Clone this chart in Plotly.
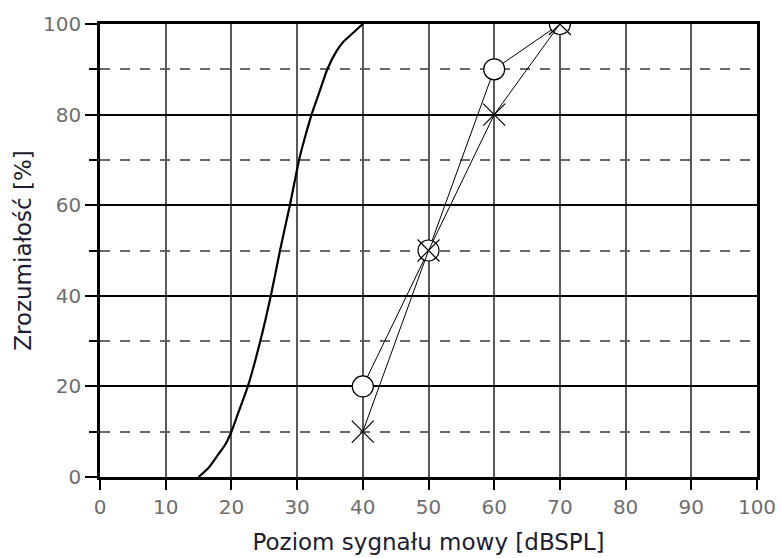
import plotly.graph_objects as go

# Reference curve (normal hearing intelligibility curve)
curve_x = [15, 16.5, 18, 19, 20, 21, 22.5, 24.4, 26, 27.4, 28.9, 30.3, 31.2, 32.2, 33.4, 34.6, 36, 37, 38.5, 40]
curve_y = [0, 2, 5, 7, 10, 14, 20, 30, 40, 50, 60, 70, 75, 80, 85, 90, 94, 96, 98, 100]

# Measured series
levels = [40, 50, 60, 70]
circle_y = [20, 50, 90, 100]
cross_y = [10, 50, 80, 100]

x_ticks = list(range(0, 101, 10))
y_ticks = list(range(0, 101, 20))

fig = go.Figure()
fig.add_trace(go.Scatter(x=curve_x, y=curve_y, mode="lines",
                         line=dict(color="black", width=2.2, shape="spline", smoothing=0.6),
                         showlegend=False, hoverinfo="skip"))
fig.add_trace(go.Scatter(x=levels, y=circle_y, mode="lines+markers",
                         line=dict(color="black", width=1),
                         marker=dict(symbol="circle", size=21, color="rgba(255,255,255,1)",
                                     line=dict(color="black", width=1.2)),
                         showlegend=False))
fig.add_trace(go.Scatter(x=levels, y=cross_y, mode="lines+markers",
                         line=dict(color="black", width=1),
                         marker=dict(symbol="x-thin-open", size=22, color="black",
                                     line=dict(color="black", width=1.2)),
                         showlegend=False))

tick_font = dict(family="DejaVu Sans", size=20, color="#6e6e6e")
title_font = dict(family="DejaVu Sans", size=23, color="#1c1c30")

fig.update_layout(
    width=781, height=558,
    margin=dict(l=100, r=24, t=24, b=81),
    paper_bgcolor="white", plot_bgcolor="white",
    xaxis=dict(range=[0, 100], tickvals=x_ticks, ticks="outside", ticklen=10,
               tickwidth=2, tickcolor="black", tickfont=tick_font, automargin=False,
               showgrid=True, gridcolor="#5a5a5a", gridwidth=1.6,
               showline=True, linecolor="black", linewidth=2.5, mirror=True,
               zeroline=False,
               title=dict(text="Poziom sygnału mowy [dBSPL]", font=title_font, standoff=17)),
    yaxis=dict(range=[0, 100], tickvals=y_ticks, ticks="outside", ticklen=12,
               tickwidth=2, tickcolor="black", tickfont=tick_font, automargin=False,
               showgrid=True, gridcolor="black", gridwidth=2,
               showline=True, linecolor="black", linewidth=2.5, mirror=True,
               zeroline=False,
               minor=dict(dtick=10, tick0=10, ticks="outside", ticklen=8, tickwidth=2,
                          tickcolor="black", showgrid=True, gridcolor="#6a6a6a",
                          gridwidth=1.8, griddash="10px,10px"),
               title=dict(text="Zrozumiałość [%]", font=title_font, standoff=6)),
)

fig.write_html("out.html", config={"displayModeBar": False},
               post_script="document.body.style.margin='0';document.body.style.overflow='hidden';")
